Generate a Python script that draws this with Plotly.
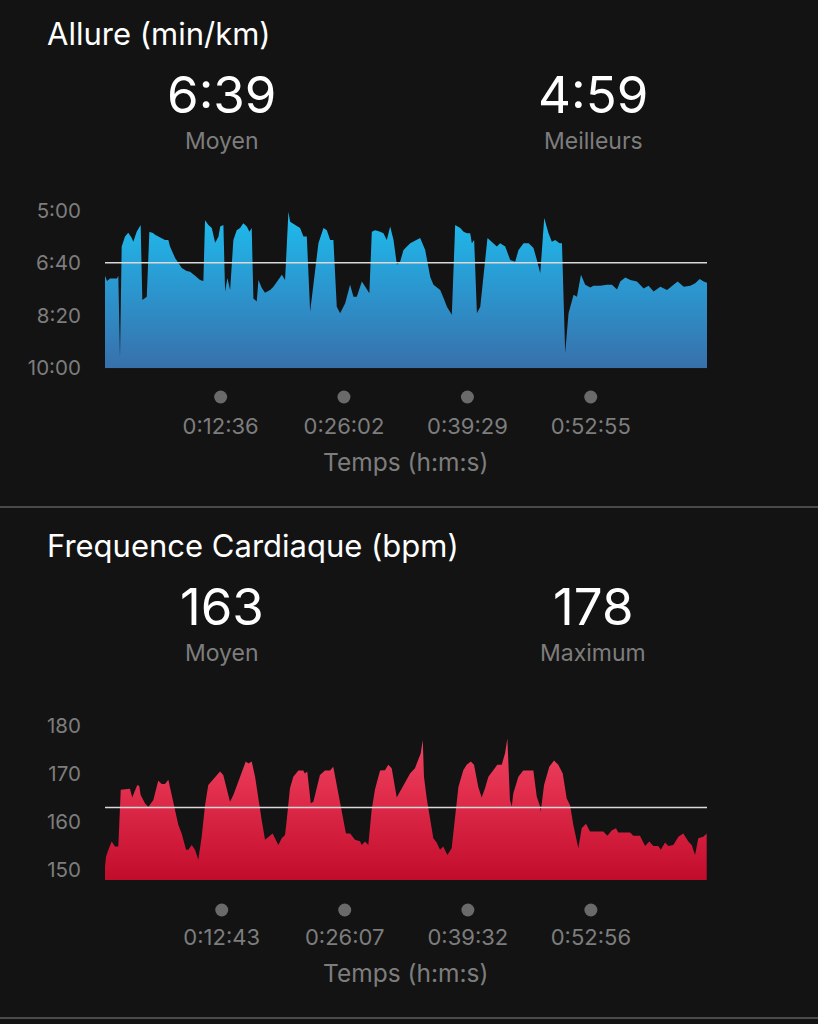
import plotly.graph_objects as go

W, H = 818, 1024
BG = "#131313"
WHITE = "#ffffff"
GREY = "#7d7d7d"
DOT = "#6a6a6a"
FONT = "Inter"

# ---------------- Pace data (time in s, pace in s/km) ----------------
pace_title = "Allure (min/km)"
pace_avg_text, pace_avg_label = "6:39", "Moyen"
pace_best_text, pace_best_label = "4:59", "Meilleurs"
pace_avg = 399
pace_t = [0, 13, 33, 78, 87, 98, 109, 131, 152, 175, 185, 207, 233, 244, 262, 273,
          290, 316, 327, 349, 371, 392, 414, 425, 458, 502, 534, 556, 589, 621, 643,
          654, 676, 698, 720, 742, 753, 774, 785, 800, 818, 839, 861, 883, 904, 927,
          944, 959, 970, 992, 1003, 1025, 1046, 1079, 1101, 1134, 1156, 1177, 1199,
          1210, 1243, 1275, 1297, 1319, 1341, 1373, 1395, 1428, 1450, 1472, 1493,
          1515, 1537, 1570, 1602, 1624, 1646, 1679, 1711, 1728, 1744, 1766, 1799,
          1820, 1842, 1864, 1886, 1908, 1929, 1951, 1995, 2060, 2093, 2126, 2147,
          2191, 2213, 2235, 2267, 2289, 2322, 2344, 2366, 2387, 2398, 2413, 2431,
          2453, 2500, 2540, 2561, 2583, 2616, 2649, 2681, 2703, 2736, 2769, 2801,
          2823, 2845, 2871, 2899, 2921, 2943, 2971, 2987, 3008, 3030, 3063, 3085,
          3111, 3139, 3172, 3193, 3237, 3281, 3314, 3347, 3368, 3401, 3434, 3477,
          3521, 3553, 3586, 3630, 3674, 3717, 3743, 3783, 3826, 3858, 3887, 3913, 3935]
pace_s = [424, 434, 429, 429, 424, 580, 368, 349, 342, 352, 359, 340, 327, 470, 466, 464,
          340, 343, 346, 349, 352, 356, 356, 368, 390, 409, 415, 416, 424, 432, 434,
          318, 327, 333, 361, 349, 330, 327, 454, 428, 451, 356, 337, 333, 324, 330,
          340, 333, 467, 473, 432, 447, 456, 451, 445, 432, 422, 432, 302,
          321, 327, 333, 349, 349, 492, 416, 362, 333, 337, 356, 356,
          483, 495, 476, 441, 464, 464, 435, 451, 457, 340, 337, 340,
          343, 356, 330, 356, 403, 397, 375, 362, 352, 375, 426, 441,
          451, 466, 483, 498, 327, 333, 340, 343, 343, 362, 356, 495,
          483, 352, 362, 368, 362, 368, 394, 397, 375, 362, 362, 371,
          394, 419, 314, 343, 359, 356, 362, 362, 571, 495, 460, 464,
          422, 441, 446, 443, 443, 441, 441, 450, 435, 427, 432, 435,
          448, 443, 454, 445, 451, 441, 435, 445, 443, 438, 430, 435, 437]
pace_range = [600, 300]
pace_ticks = [300, 400, 500, 600]
pace_tick_text = ["5:00", "6:40", "8:20", "10:00"]
pace_time_ticks = [756, 1562, 2369, 3175]
pace_time_labels = ["0:12:36", "0:26:02", "0:39:29", "0:52:55"]

# ---------------- Heart-rate data (time in s, bpm) ----------------
hr_title = "Frequence Cardiaque (bpm)"
hr_avg_text, hr_avg_label = "163", "Moyen"
hr_max_text, hr_max_label = "178", "Maximum"
hr_avg = 163
hr_t = [0, 7, 22, 44, 65, 87, 103, 163, 178, 196, 211, 224, 233, 261, 283, 316, 348,
        371, 392, 414, 436, 458, 479, 501, 530, 545, 567, 588, 610, 632, 654, 675,
        708, 726, 752, 773, 791, 817, 839, 871, 904, 920, 937, 959, 981, 1002, 1024,
        1046, 1067, 1096, 1111, 1133, 1155, 1177, 1188, 1209, 1231, 1264, 1296, 1307,
        1322, 1345, 1362, 1384, 1405, 1438, 1471, 1492, 1519, 1547, 1575, 1602, 1634,
        1667, 1678, 1700, 1721, 1743, 1765, 1798, 1830, 1852, 1874, 1907, 1928, 1961,
        1994, 2026, 2048, 2064, 2077, 2085, 2103, 2125, 2146, 2168, 2190, 2211, 2238,
        2266, 2288, 2310, 2342, 2364, 2391, 2412, 2440, 2462, 2484, 2506, 2538, 2564,
        2593, 2615, 2630, 2647, 2659, 2669, 2702, 2734, 2800, 2822, 2844, 2848, 2870,
        2904, 2935, 2963, 2992, 3018, 3040, 3061, 3094, 3116, 3144, 3170, 3257, 3284,
        3312, 3340, 3355, 3432, 3453, 3497, 3530, 3558, 3584, 3617, 3633, 3661, 3683,
        3715, 3748, 3780, 3813, 3835, 3857, 3878, 3911, 3933]
hr_bpm = [150.7, 152.8, 154.2, 155.9, 154.9, 154.9, 166.7, 166.9, 165.1, 166.5, 167.7,
          167.5, 165.6, 163.9, 163.1, 164.6, 168.6, 167.9, 167.9, 168.8, 165.6, 162.5,
          159.4, 157.6, 154.2, 154.2, 155.2, 154.2, 152.1, 156.9, 163.5, 167.7, 168.9,
          169.4, 170.5, 169.8, 167.3, 164.2, 165.6, 168.4, 171.2, 172.6, 172.2, 172.6,
          169.4, 164.6, 160.4, 156.3, 156.9, 157.6, 156.6, 155.2, 156.6, 157.3, 160.4,
          167.0, 169.4, 170.7, 170.7, 170.1, 170.5, 163.9, 164.2, 166.8, 169.8, 170.7,
          170.7, 171.5, 166.8, 161.8, 157.6, 157.6, 156.3, 156.0, 155.2, 155.9, 155.2,
          162.5, 166.8, 170.7, 170.8, 171.9, 171.2, 165.1, 166.3, 168.4, 170.1, 171.2,
          172.9, 174.3, 177.1, 169.4, 164.9, 160.4, 156.6, 155.7, 154.2, 154.9, 153.1,
          154.5, 160.4, 167.3, 170.8, 171.9, 172.6, 171.9, 167.3, 165.1, 167.0, 169.4,
          170.8, 171.9, 171.9, 174.3, 177.4, 164.6, 163.2, 166.0, 169.4, 170.7, 170.7,
          165.3, 163.2, 162.1, 167.7, 171.5, 172.8, 171.9, 170.1, 164.9, 163.5, 159.4,
          154.5, 158.7, 159.6, 158.0, 158.0, 157.1, 158.2, 158.7, 157.8, 157.8, 157.1,
          157.1, 155.0, 155.9, 155.0, 155.0, 154.2, 155.7, 155.0, 155.2, 156.9, 157.6,
          155.9, 155.2, 153.1, 156.6, 156.9, 157.6]
hr_range = [147.9, 180]
hr_ticks = [150, 160, 170, 180]
hr_tick_text = ["150", "160", "170", "180"]
hr_time_ticks = [763, 1567, 2372, 3176]
hr_time_labels = ["0:12:43", "0:26:07", "0:39:32", "0:52:56"]

time_range = [0, 3935]
x_title = "Temps (h:m:s)"

# ---------------- layout helpers (pixel -> paper) ----------------
def py(px):
    return 1 - px / H

def pxx(px):
    return px / W

PLOT_X0, PLOT_X1 = 105, 707
PACE_TOP, PACE_BOT = 210.7, 368.3
HR_TOP, HR_BOT = 726, 880
DOT_ROW_PACE = 397
DOT_ROW_HR = 910

fig = go.Figure()

# Pace area (filled down to the bottom of the axis)
fig.add_trace(go.Scatter(x=[pace_t[0], pace_t[-1]], y=[pace_range[0]] * 2, mode="lines",
                         line=dict(width=0), hoverinfo="skip", showlegend=False,
                         xaxis="x", yaxis="y"))
fig.add_trace(go.Scatter(
    x=pace_t, y=pace_s, mode="lines", line=dict(width=0, color="#22b4e6"),
    fill="tonexty",
    fillgradient=dict(type="vertical", start=pace_range[0], stop=pace_range[1],
                      colorscale=[[0, "#3870ab"], [0.55, "#2a9ad2"], [1, "#1dbdee"]]),
    showlegend=False, xaxis="x", yaxis="y"))
# time markers (dots) on their own thin row axis
fig.add_trace(go.Scatter(
    x=pace_time_ticks, y=[0] * len(pace_time_ticks),
    mode="markers", marker=dict(size=13, color=DOT),
    showlegend=False, xaxis="x", yaxis="y3"))

# Heart-rate area
fig.add_trace(go.Scatter(
    x=hr_t, y=hr_bpm, mode="lines", line=dict(width=0, color="#e23656"),
    fill="tozeroy",
    fillgradient=dict(type="vertical", start=hr_range[0], stop=hr_range[1],
                      colorscale=[[0, "#c20c2c"], [0.6, "#e3304f"], [1, "#ef4b68"]]),
    showlegend=False, xaxis="x2", yaxis="y2"))
fig.add_trace(go.Scatter(
    x=hr_time_ticks, y=[0] * len(hr_time_ticks),
    mode="markers", marker=dict(size=13, color=DOT),
    showlegend=False, xaxis="x2", yaxis="y4"))

xcommon = dict(range=time_range, showgrid=False, zeroline=False, showline=False,
               ticks="outside", ticklen=38, tickcolor="rgba(0,0,0,0)",
               tickfont=dict(family=FONT, size=22, color=GREY), automargin=False,
               domain=[pxx(PLOT_X0), pxx(PLOT_X1)], fixedrange=True)
ycommon = dict(showgrid=False, zeroline=False, showline=False, automargin=False,
               ticks="outside", ticklen=19, tickcolor="rgba(0,0,0,0)",
               tickfont=dict(family=FONT, size=20.5, color=GREY), fixedrange=True)
rowaxis = dict(range=[-1, 1], visible=False, fixedrange=True, anchor="free",
               position=0, automargin=False)

fig.update_layout(
    width=W, height=H, autosize=False,
    margin=dict(l=0, r=0, t=0, b=0, pad=0, autoexpand=False),
    paper_bgcolor=BG, plot_bgcolor=BG, showlegend=False,
    xaxis=dict(xcommon, anchor="y", tickvals=pace_time_ticks, ticktext=pace_time_labels),
    yaxis=dict(ycommon, anchor="x", range=pace_range, tickvals=pace_ticks,
               ticktext=pace_tick_text, domain=[py(PACE_BOT), py(PACE_TOP)]),
    xaxis2=dict(xcommon, anchor="y2", tickvals=hr_time_ticks, ticktext=hr_time_labels),
    yaxis2=dict(ycommon, anchor="x2", range=hr_range, tickvals=hr_ticks,
                ticktext=hr_tick_text, domain=[py(HR_BOT), py(HR_TOP)]),
    yaxis3=dict(rowaxis, domain=[py(DOT_ROW_PACE + 12), py(DOT_ROW_PACE - 12)]),
    yaxis4=dict(rowaxis, domain=[py(DOT_ROW_HR + 12), py(DOT_ROW_HR - 12)]),
)

# average lines
fig.add_shape(type="line", xref="x domain", yref="y", x0=0, x1=1, y0=pace_avg, y1=pace_avg,
              line=dict(color="#d9d9d9", width=1.5), layer="above")
fig.add_shape(type="line", xref="x2 domain", yref="y2", x0=0, x1=1, y0=hr_avg, y1=hr_avg,
              line=dict(color="#d9d9d9", width=1.5), layer="above")

# separators
for sep in (507, 1018):
    fig.add_shape(type="line", xref="paper", yref="paper", x0=0, x1=1, y0=py(sep), y1=py(sep),
                  line=dict(color="#4a4a4a", width=2))


def ann(text, x, y, size, color, xanchor="center"):
    fig.add_annotation(text=text, x=pxx(x), y=py(y), xref="paper", yref="paper",
                       xanchor=xanchor, yanchor="middle", showarrow=False,
                       font=dict(family=FONT, size=size, color=color))


BIG, SMALL = 51, 23

# Pace header
ann(pace_title, 45, 33, 31, WHITE, "left")
ann(pace_avg_text, 222, 94.5, BIG, WHITE)
ann(pace_avg_label, 222, 140.5, SMALL, GREY)
ann(pace_best_text, 593, 94.5, BIG, WHITE)
ann(pace_best_label, 593, 140.5, SMALL, GREY)
ann(x_title, 405, 462, 24.5, GREY)

# HR header
ann(hr_title, 45, 545, 31, WHITE, "left")
ann(hr_avg_text, 222, 606.5, BIG, WHITE)
ann(hr_avg_label, 222, 652.5, SMALL, GREY)
ann(hr_max_text, 593, 606.5, BIG, WHITE)
ann(hr_max_label, 593, 652.5, SMALL, GREY)
ann(x_title, 405, 973, 24.5, GREY)

fig.write_html(
    "out.html",
    config={"displayModeBar": False},
    post_script="document.body.style.margin='0';document.body.style.background='#131313';",
)
